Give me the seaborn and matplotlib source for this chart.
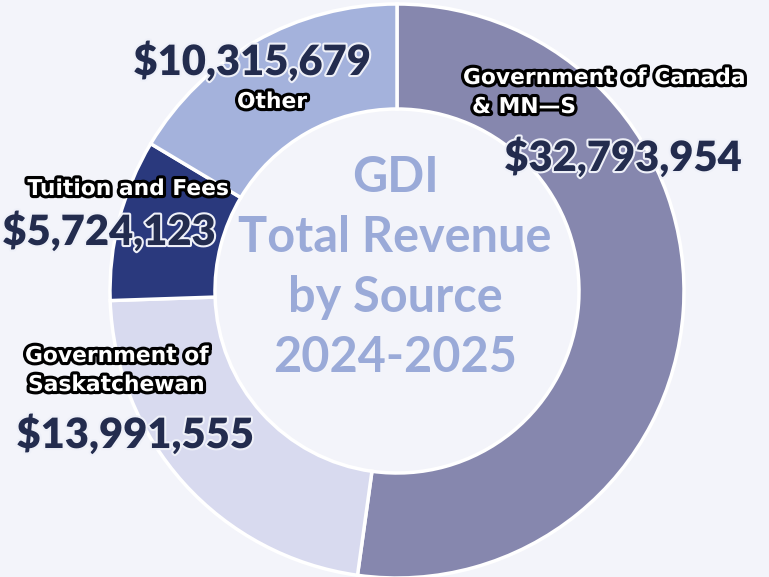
import matplotlib.pyplot as plt
import matplotlib.patheffects as pe
import seaborn as sns

# Revenue by source (clockwise from top)
sources = ['Government of Canada\n& MN\u2014S', 'Government of\nSaskatchewan', 'Tuition and Fees', 'Other']
revenue = [32793954, 13991555, 5724123, 10315679]
colors = ['#8687ae', '#d8daef', '#2a397d', '#a4b2dc']
title_lines = ['GDI', 'Total Revenue', 'by Source', '2024-2025']

W, H = 769, 577
bg = '#f3f4fa'
navy = '#232c4e'

sns.set_theme(style='white')
plt.rcParams['font.family'] = ['Lato', 'DejaVu Sans']

fig = plt.figure(figsize=(W / 100, H / 100), dpi=100, facecolor=bg)
ax = fig.add_axes([0, 0, 1, 1])
ax.set_facecolor(bg)

ax.pie(revenue, colors=colors, startangle=90, counterclock=False,
       center=(397, H - 291), radius=287,
       wedgeprops=dict(width=105, edgecolor='white', linewidth=2.5))
ax.set_xlim(0, W)
ax.set_ylim(0, H)
ax.set_aspect('auto')
ax.axis('off')

# centre title
for i, line in enumerate(title_lines):
    ax.text(395, H - (177 + i * 60), line, ha='center', va='center',
            fontsize=35, fontweight='bold', color='#9aaad8')

cat_fx = [pe.withStroke(linewidth=4.5, foreground='black')]
val_fx = [pe.withStroke(linewidth=3, foreground='#eef0f8')]


def cat_label(x, y, s, ha='left'):
    ax.text(x, H - y, s, ha=ha, va='center', fontsize=15.7, fontweight='bold',
            family='DejaVu Sans', color='white', path_effects=cat_fx)


def val_label(x, y, v):
    ax.text(x, H - y, f'${v:,}', ha='center', va='center', fontsize=30,
            fontweight='heavy', color=navy, path_effects=val_fx)


canada, sask = sources[0].split('\n'), sources[1].split('\n')

# Government of Canada
cat_label(463, 78, canada[0])
cat_label(472, 107, canada[1])
val_label(623, 158, revenue[0])

# Saskatchewan
cat_label(25, 356, sask[0])
cat_label(28, 385, sask[1])
val_label(135, 435, revenue[1])

# Tuition
cat_label(128, 189, sources[2], ha='center')
val_label(109, 232, revenue[2])

# Other
val_label(252, 62, revenue[3])
cat_label(272, 102, sources[3], ha='center')

fig.savefig('out.png', dpi=100, facecolor=bg)
